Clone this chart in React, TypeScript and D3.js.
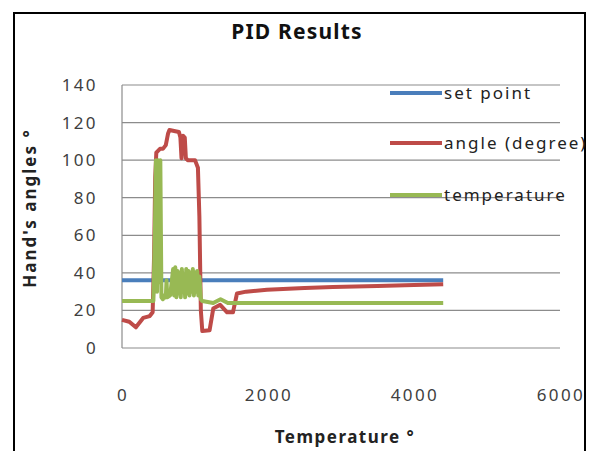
import React from 'react';
import * as d3 from 'd3';

// x values (the chart calls them "Temperature"), y = hand's angles
const setPointX = [0, 4400];
const setPointY = [36, 36];

const angleX = [0, 100, 190, 290, 380, 420, 440, 455, 470, 520, 560, 600, 630, 650, 780, 800, 815, 835, 860, 875, 900, 1000, 1040, 1060, 1080, 1100, 1200, 1250, 1345, 1440, 1520, 1575, 1700, 1985, 2500, 2890, 3500, 4000, 4400];
const angleY = [15, 14, 11, 16, 17, 19, 50, 91, 104, 106, 106, 108, 114, 116, 115, 112, 101, 113, 112, 101, 100, 100, 96, 70, 20, 9, 9.5, 21, 23, 19, 19, 29, 30, 31, 32, 32.5, 33, 33.5, 34];

const tempX = [0, 430, 450, 465, 480, 495, 510, 525, 540, 560, 580, 600, 610, 620, 660, 700, 715, 730, 745, 760, 775, 790, 805, 820, 835, 850, 865, 880, 895, 910, 925, 940, 955, 970, 985, 1000, 1015, 1030, 1045, 1060, 1080, 1100, 1250, 1350, 1450, 4400];
const tempY = [25, 25, 60, 100, 30, 100, 35, 100, 27, 26, 28, 27, 36, 27, 28, 42, 28, 43, 27, 41, 29, 40, 27, 42, 30, 38, 27, 42, 29, 41, 28, 40, 30, 42, 28, 40, 30, 41, 28, 38, 26, 25, 24, 26, 24, 24];

const yTicks = [0, 20, 40, 60, 80, 100, 120, 140];
const xTicks = [0, 2000, 4000, 6000];

const series = [
  { name: 'set point', xs: setPointX, ys: setPointY, color: '#4a7ebb' },
  { name: 'angle (degree)', xs: angleX, ys: angleY, color: '#be4b48' },
  { name: 'temperature', xs: tempX, ys: tempY, color: '#98b954' },
];

const W = 590;
const H = 451;
const font = '"Noto Sans", "Open Sans", sans-serif';

export default function App() {
  const x = d3.scaleLinear().domain([0, 6000]).range([122, 560]);
  const y = d3.scaleLinear().domain([0, 140]).range([348, 85]);

  const line = d3.line<[number, number]>()
    .x(d => x(d[0]))
    .y(d => y(d[1]));

  return (
    <svg width={W} height={H} style={{ position: 'absolute', left: 0, top: 0, background: '#fff' }}>
      <rect x={0} y={0} width={W} height={H} fill="#fff" />
      {/* outer frame */}
      <rect x={14} y={13} width={571} height={460} fill="none" stroke="#000" strokeWidth={2} />

      <text x={297} y={39} textAnchor="middle" fontFamily={font} fontWeight="bold" fontSize={21} letterSpacing={1.2} fill="#111">
        PID Results
      </text>

      {/* grid */}
      {yTicks.map(t => (
        <g key={t}>
          <line x1={x(0)} x2={560} y1={y(t)} y2={y(t)} stroke="#8c8c8c" strokeWidth={1.2} />
          <text x={98} y={y(t)} dy="0.35em" textAnchor="end" fontFamily={font} fontSize={17} letterSpacing={2.4} fill="#404040">
            {t}
          </text>
        </g>
      ))}
      <line x1={x(0)} x2={x(0)} y1={y(140)} y2={y(0)} stroke="#8c8c8c" strokeWidth={1.2} />

      {xTicks.map(t => (
        <text key={t} x={x(t) + 1} y={401} textAnchor="middle" fontFamily={font} fontSize={17} letterSpacing={2.4} fill="#404040">
          {t}
        </text>
      ))}

      {series.map(s => (
        <path
          key={s.name}
          d={line(s.xs.map((v, i) => [v, s.ys[i]] as [number, number])) || ''}
          fill="none"
          stroke={s.color}
          strokeWidth={4}
          strokeLinejoin="round"
        />
      ))}

      {/* legend */}
      {series.map((s, i) => {
        const ly = [93, 143, 195][i];
        return (
          <g key={s.name}>
            <line x1={390} x2={442} y1={ly} y2={ly} stroke={s.color} strokeWidth={4} />
            <text x={444} y={ly} dy="0.35em" fontFamily={font} fontSize={17} letterSpacing={2} fill="#222">
              {s.name}
            </text>
          </g>
        );
      })}

      <text x={345} y={443} textAnchor="middle" fontFamily={font} fontWeight="bold" fontSize={17} letterSpacing={1.5} fill="#222">
        Temperature °
      </text>
      <text
        transform="translate(36,208) rotate(-90)"
        textAnchor="middle"
        fontFamily={font}
        fontWeight="bold"
        fontSize={17}
        letterSpacing={2}
        fill="#222"
      >
        Hand's angles °
      </text>
    </svg>
  );
}
